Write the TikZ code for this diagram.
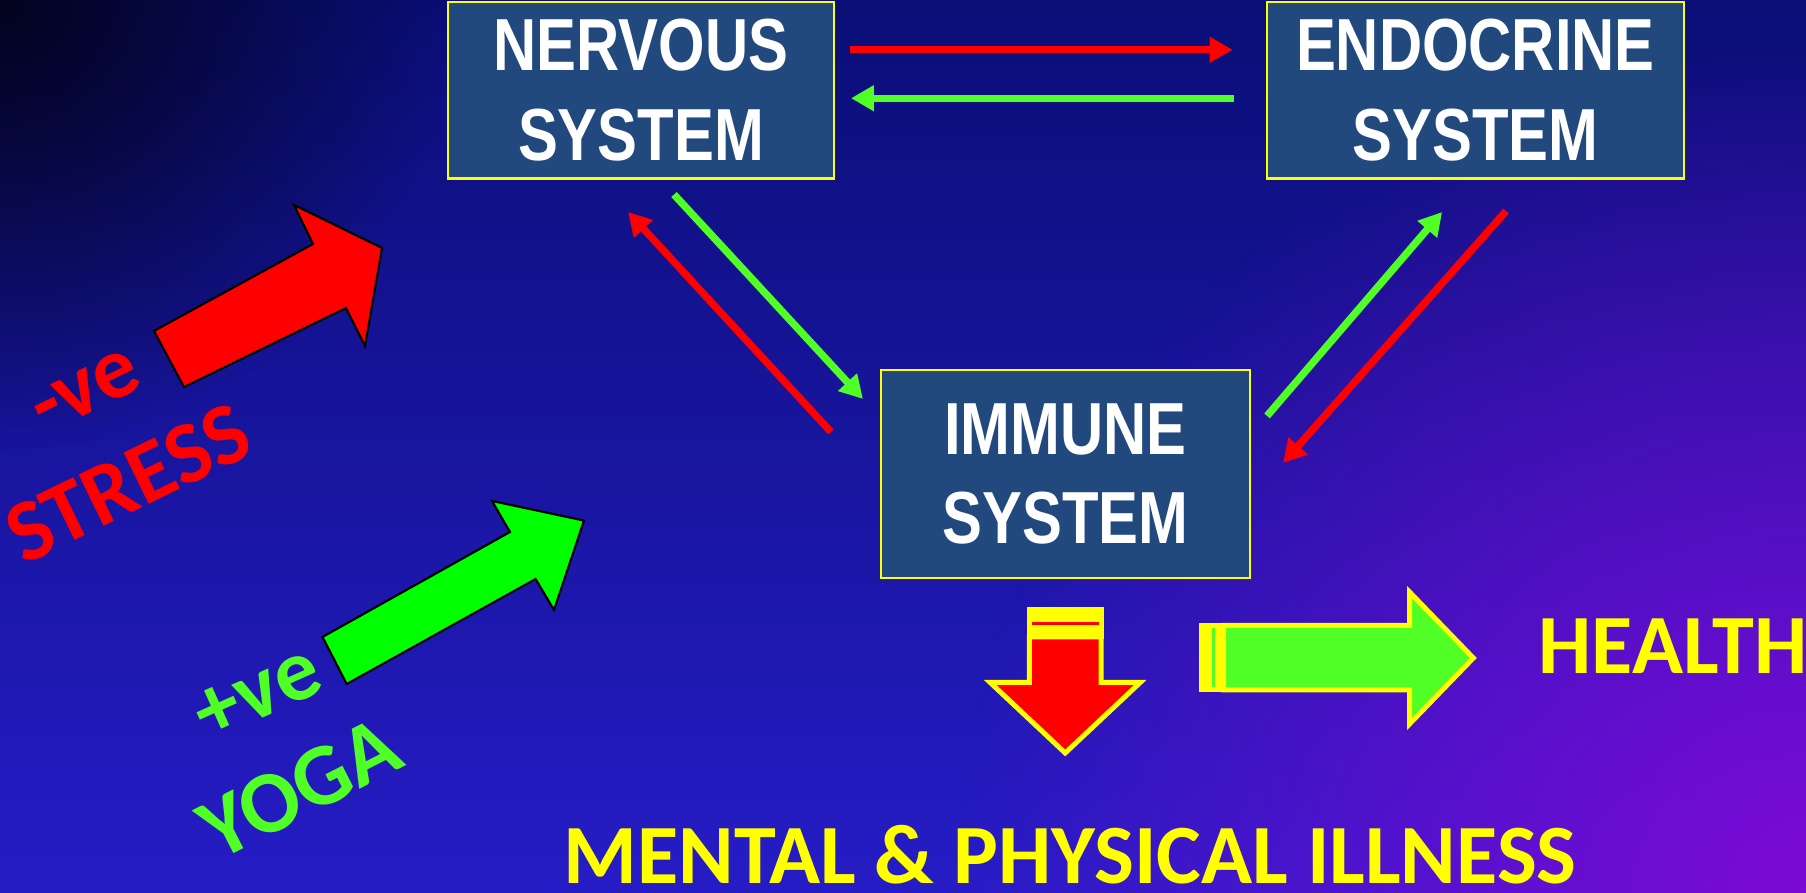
\documentclass[tikz,border=0pt]{standalone}
\usepackage{fontspec}
\setmainfont{Carlito}
\newfontfamily\boxfont{Liberation Sans}[FakeStretch=0.81]
\usepackage{tikz}
\usetikzlibrary{positioning, arrows.meta, fadings}
\definecolor{boxblue}{RGB}{33,73,125}
\definecolor{linkred}{RGB}{255,0,0}
\definecolor{linkgreen}{RGB}{80,255,38}
\definecolor{bigyellow}{RGB}{255,255,0}
\definecolor{biggreen}{RGB}{0,255,0}
\definecolor{bgtop}{RGB}{10,14,118}
\definecolor{bgbottom}{RGB}{38,28,198}
\definecolor{bgdark}{RGB}{3,3,30}
\definecolor{bgpurple}{RGB}{125,10,215}
\tikzfading[name=glow, inner color=transparent!0, outer color=transparent!100]

\begin{document}
\begin{tikzpicture}[
    system/.style={draw=bigyellow, line width=0.6pt, fill=boxblue, text=white, align=center, inner sep=0pt,
      minimum height=1.765cm, font=\boxfont\bfseries\fontsize{21}{25.6}\selectfont},
    redlink/.style={draw=linkred, line width=2.1pt, -{Triangle[length=6.5pt,width=7pt]}},
    greenlink/.style={redlink, draw=linkgreen},
    blockarrow/.style={draw=black, line width=0.6pt, line join=miter},
    stripedarrow/.style={draw=bigyellow, line width=0.05cm, line join=miter},
    slanted/.style={font=\bfseries\fontsize{25}{30}\selectfont, inner sep=0pt},
    banner/.style={font=\bfseries\fontsize{24}{30}\selectfont, inner sep=0pt, text=bigyellow}
]
\useasboundingbox (0,0) rectangle (18.06,8.93);
\shade[top color=bgtop, bottom color=bgbottom] (0,0) rectangle (18.06,8.93);
\begin{scope}
  \clip (0,0) rectangle (18.06,8.93);
  \fill[bgpurple, path fading=glow] (18.06,0) circle (8.5);
  \fill[bgdark, path fading=glow] (0,8.93) circle (4.5);
\end{scope}

\node[system, minimum width=3.86cm] (nervous) at (6.41,8.0275) {NERVOUS\\SYSTEM};
\node[system, minimum width=4.175cm, right=4.305cm of nervous] (endocrine) {ENDOCRINE\\SYSTEM};
\node[system, minimum width=3.69cm, minimum height=2.08cm] (immune) at (10.655,4.19) {IMMUNE\\SYSTEM};

\draw[redlink] ([shift={(0.15,0.405)}]nervous.east) -- ([shift={(-0.33,0.405)}]endocrine.west);
\draw[greenlink] ([shift={(-0.32,-0.08)}]endocrine.west) -- ([shift={(0.16,-0.08)}]nervous.east);
\draw[greenlink] ([shift={(0.33,-0.15)}]nervous.south) -- ([shift={(-0.17,-0.30)}]immune.north west);
\draw[redlink] ([shift={(-0.49,-0.63)}]immune.north west) -- ([shift={(-0.13,-0.325)}]nervous.south);
\draw[greenlink] ([shift={(0.16,-0.47)}]immune.north east) -- ([shift={(-0.3325,-0.325)}]endocrine.south);
\draw[redlink] ([shift={(0.3075,-0.315)}]endocrine.south) -- ([shift={(0.32,-0.94)}]immune.north east);

\filldraw[blockarrow, fill=linkred] (1.54,5.62) -- (3.13,6.49) -- (2.94,6.88) -- (3.82,6.45) -- (3.65,5.47) -- (3.46,5.85) -- (1.84,5.06) -- cycle;
\filldraw[blockarrow, fill=biggreen] (3.225,2.56) -- (5.10,3.61) -- (4.92,3.92) -- (5.84,3.724) -- (5.54,2.83) -- (5.356,3.14) -- (3.467,2.09) -- cycle;

\fill[bigyellow] (10.268,2.54) rectangle (11.036,2.857);
\fill[linkred] (10.321,2.68) rectangle (10.986,2.713);
\filldraw[stripedarrow, fill=linkred] (10.293,2.56) -- (10.293,2.105) -- (9.902,2.105) -- (10.652,1.40) -- (11.402,2.105) -- (11.011,2.105) -- (11.011,2.56) -- cycle;
\fill[bigyellow] (11.986,2.007) rectangle (12.26,2.70);
\fill[linkgreen] (12.118,2.057) rectangle (12.15,2.647);
\filldraw[stripedarrow, fill=linkgreen] (12.235,2.675) -- (14.095,2.675) -- (14.095,3.01) -- (14.733,2.35) -- (14.095,1.69) -- (14.095,2.032) -- (12.235,2.032) -- cycle;

\node[slanted, text=linkred, rotate=26] (minus) at (0.86,5.02) {-ve};
\node[slanted, text=linkred, rotate=26] (stress) at (1.28,4.10) {STRESS};
\node[slanted, text=linkgreen, rotate=24] (plus) at (2.58,1.99) {+ve};
\node[slanted, text=linkgreen, rotate=27] (yoga) at (3.00,1.05) {YOGA};
\node[banner, anchor=base west] (health) at (15.38,2.19) {HEALTH};
\node[banner, anchor=base] (illness) at (10.70,0.09) {MENTAL \& PHYSICAL ILLNESS};
\end{tikzpicture}
\end{document}
